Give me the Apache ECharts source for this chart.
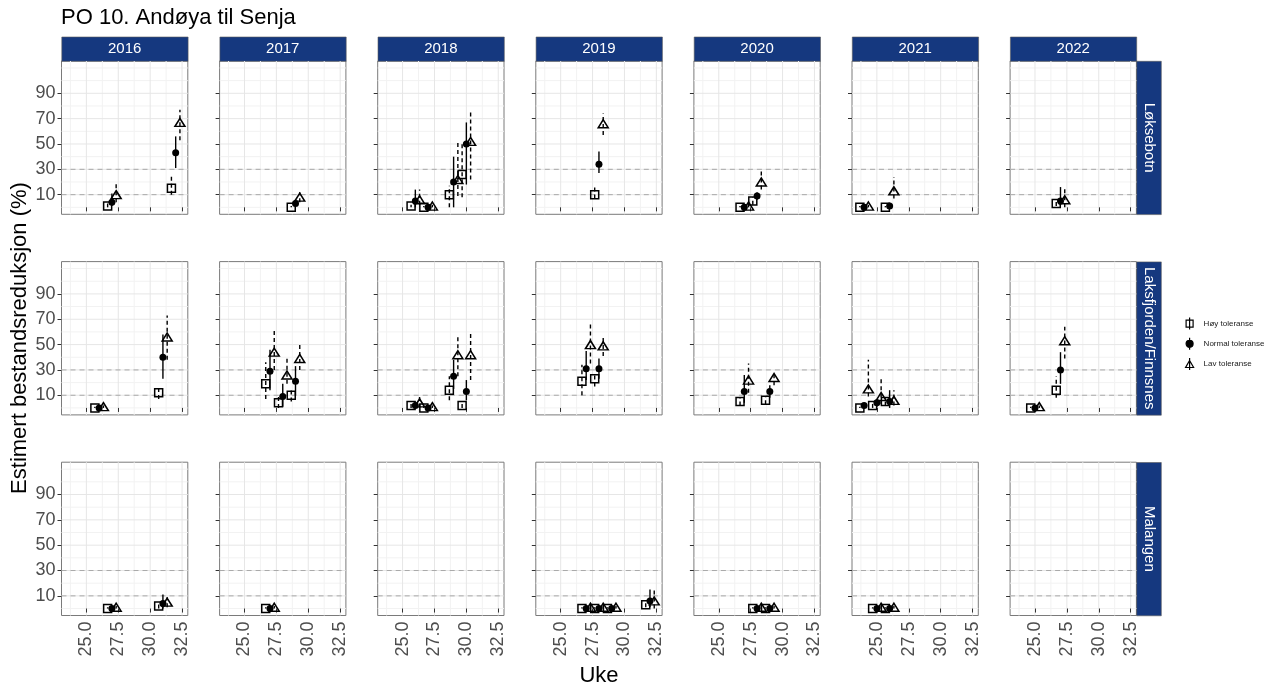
<!DOCTYPE html>
<html lang="no">
<head>
<meta charset="UTF-8">
<title>PO 10. Andøya til Senja</title>
<style>html,body{margin:0;padding:0;background:#fff;}</style>
</head>
<body>
<div id="main" style="width:1288px;height:689px;"></div>

<script src="https://cdn.jsdelivr.net/npm/echarts@6/dist/echarts.min.js"></script>
<script>
var years = [2016, 2017, 2018, 2019, 2020, 2021, 2022];
var sites = ['Løksebotn', 'Laksfjorden/Finnsnes', 'Malangen'];
var tolerances = ['Høy toleranse', 'Normal toleranse', 'Lav toleranse'];

var xTicks = [25, 27.5, 30, 32.5];
var xMinor = [23.75, 26.25, 28.75, 31.25];
var yTicks = [10, 30, 50, 70, 90];
var yMinor = [0, 20, 40, 60, 80, 100, 110];
var refLines = [10, 30];

// [år, uke, estimat, nedre, øvre]
var loksebotnHoy = [
    [2016, 27, 1, 0, 3], [2016, 32, 15, 10, 25],
    [2017, 29, 0, 0, 1],
    [2018, 26, 1, 0, 2], [2018, 27, 0, 0, 1], [2018, 29, 10, 0, 17], [2018, 30, 26, 8, 50],
    [2019, 28, 10, 7, 16],
    [2020, 27, 0, 0, 1], [2020, 28, 5, 2, 8],
    [2021, 24, 0, 0, 1], [2021, 26, 0, 0, 1],
    [2022, 27, 3, 1, 6]
];
var loksebotnNormal = [
    [2016, 27, 4, 1, 11], [2016, 32, 43, 31, 56],
    [2017, 29, 3, 1, 6],
    [2018, 26, 5, 0, 14], [2018, 27, 0, 0, 1], [2018, 29, 20, 0, 40], [2018, 30, 50, 18, 67],
    [2019, 28, 34, 27, 44],
    [2020, 27, 0, 0, 1], [2020, 28, 9, 6, 12],
    [2021, 24, 0, 0, 1], [2021, 26, 1, 0, 2],
    [2022, 27, 5, 2, 16]
];
var loksebotnLav = [
    [2016, 27, 10, 4, 20], [2016, 32, 67, 53, 77],
    [2017, 29, 8, 4, 12],
    [2018, 26, 6, 2, 14], [2018, 27, 1, 0, 2], [2018, 29, 22, 9, 51], [2018, 30, 52, 22, 77],
    [2019, 28, 66, 57, 74],
    [2020, 27, 1, 0, 3], [2020, 28, 20, 14, 30],
    [2021, 24, 1, 0, 2], [2021, 26, 13, 7, 24],
    [2022, 27, 6, 0, 16]
];

var laksHoy = [
    [2016, 26, 0, 0, 1], [2016, 31, 12, 7, 17],
    [2017, 27, 19, 7, 36], [2017, 28, 4, 0, 9], [2017, 29, 10, 5, 16],
    [2018, 26, 2, 0, 4], [2018, 27, 0, 0, 1], [2018, 29, 14, 6, 25], [2018, 30, 2, 0, 4],
    [2019, 27, 21, 10, 34], [2019, 28, 23, 17, 27],
    [2020, 27, 5, 2, 8], [2020, 29, 6, 3, 9],
    [2021, 24, 0, 0, 1], [2021, 25, 2, 0, 4], [2021, 26, 5, 2, 8],
    [2022, 25, 0, 0, 1], [2022, 27, 14, 8, 25]
];
var laksNormal = [
    [2016, 26, 0, 0, 1], [2016, 31, 40, 23, 58],
    [2017, 27, 29, 14, 46], [2017, 28, 9, 1, 19], [2017, 29, 21, 10, 33],
    [2018, 26, 2, 0, 5], [2018, 27, 0, 0, 1], [2018, 29, 25, 15, 38], [2018, 30, 13, 6, 22],
    [2019, 27, 31, 22, 45], [2019, 28, 31, 23, 39],
    [2020, 27, 13, 4, 26], [2020, 29, 13, 8, 18],
    [2021, 24, 2, 0, 4], [2021, 25, 4, 1, 7], [2021, 26, 5, 0, 14],
    [2022, 25, 0, 0, 1], [2022, 27, 30, 19, 44]
];
var laksLav = [
    [2016, 26, 1, 0, 2], [2016, 31, 56, 38, 73],
    [2017, 27, 44, 30, 62], [2017, 28, 26, 19, 39], [2017, 29, 39, 30, 51],
    [2018, 26, 4, 0, 9], [2018, 27, 1, 0, 2], [2018, 29, 42, 25, 58], [2018, 30, 42, 22, 59],
    [2019, 27, 50, 35, 66], [2019, 28, 49, 41, 56],
    [2020, 27, 22, 12, 35], [2020, 29, 24, 18, 27],
    [2021, 24, 15, 9, 38], [2021, 25, 9, 3, 23], [2021, 26, 6, 2, 14],
    [2022, 25, 1, 0, 2], [2022, 27, 53, 39, 64]
];

var malHoy = [
    [2016, 27, 0, 0, 1], [2016, 31, 2, 0, 4],
    [2017, 27, 0, 0, 1],
    [2019, 27, 0, 0, 1], [2019, 28, 0, 0, 1], [2019, 29, 0, 0, 1], [2019, 32, 3, 1, 6],
    [2020, 28, 0, 0, 1], [2020, 29, 0, 0, 1],
    [2021, 25, 0, 0, 1], [2021, 26, 0, 0, 1]
];
var malNormal = [
    [2016, 27, 0, 0, 1], [2016, 31, 4, 0, 11],
    [2017, 27, 0, 0, 1],
    [2019, 27, 0, 0, 1], [2019, 28, 0, 0, 1], [2019, 29, 0, 0, 1], [2019, 32, 6, 1, 15],
    [2020, 28, 0, 0, 1], [2020, 29, 0, 0, 1],
    [2021, 25, 0, 0, 1], [2021, 26, 0, 0, 1]
];
var malLav = [
    [2016, 27, 1, 0, 2], [2016, 31, 5, 1, 9],
    [2017, 27, 1, 0, 2],
    [2019, 27, 1, 0, 2], [2019, 28, 1, 0, 2], [2019, 29, 1, 0, 2], [2019, 32, 6, 0, 15],
    [2020, 28, 1, 0, 2], [2020, 29, 1, 0, 2],
    [2021, 25, 1, 0, 2], [2021, 26, 1, 0, 2]
];

var siteData = [
    [loksebotnHoy, loksebotnNormal, loksebotnLav],
    [laksHoy, laksNormal, laksLav],
    [malHoy, malNormal, malLav]
];

var FONT = 'Liberation Sans, Arial, sans-serif';
var STRIP = '#15387f';
var PW = 126.3, PH = 153.3;
function panelLeft(c) { return 61.5 + 158.1 * c; }
function panelTop(r) { return 61 + 200.6 * r; }
var dodge = [-1 / 3, 0, 1 / 3];
var symbols = ['rect', 'circle', 'triangle'];
var symbolSizes = [8, 7, [10, 8]];
var dashes = [[4, 3], null, [4, 3]];

// guide lines: [kind, value]  kind 0=x major,1=x minor,2=y major,3=y minor,4=reference
var guideData = [];
xTicks.forEach(function (v) { guideData.push([0, v]); });
xMinor.forEach(function (v) { guideData.push([1, v]); });
yTicks.forEach(function (v) { guideData.push([2, v]); });
yMinor.forEach(function (v) { guideData.push([3, v]); });
refLines.forEach(function (v) { guideData.push([4, v]); });

function renderGuide(params, api) {
    var kind = api.value(0), v = api.value(1);
    var cs = params.coordSys;
    var x1, y1, x2, y2;
    if (kind < 2) {
        var p = api.coord([v, 50]);
        x1 = x2 = p[0]; y1 = cs.y; y2 = cs.y + cs.height;
    } else {
        var q = api.coord([28, v]);
        y1 = y2 = q[1]; x1 = cs.x; x2 = cs.x + cs.width;
    }
    var style;
    if (kind === 4) style = { stroke: '#a9a9a9', lineWidth: 1, lineDash: [5, 4] };
    else if (kind === 0 || kind === 2) style = { stroke: '#e6e6e6', lineWidth: 1 };
    else style = { stroke: '#f2f2f2', lineWidth: 1 };
    return { type: 'line', z2: kind === 4 ? 2 : (kind % 2 === 0 ? 1 : 0), shape: { x1: x1, y1: y1, x2: x2, y2: y2 }, style: style };
}

function barRenderer(dash) {
    return function (params, api) {
        var lo = api.coord([api.value(0), api.value(2)]);
        var hi = api.coord([api.value(0), api.value(3)]);
        return {
            type: 'line',
            shape: { x1: lo[0], y1: lo[1], x2: hi[0], y2: hi[1] },
            style: { stroke: '#000', lineWidth: 1.4, lineDash: dash }
        };
    };
}

var grids = [], xAxes = [], yAxes = [], series = [], graphics = [];

for (var r = 0; r < sites.length; r++) {
    for (var c = 0; c < years.length; c++) {
        var idx = r * years.length + c;
        grids.push({
            left: panelLeft(c), top: panelTop(r), width: PW, height: PH,
            show: true, backgroundColor: '#fff', borderColor: '#7a7a7a', borderWidth: 1,
            containLabel: false, outerBoundsMode: 'none'
        });
        xAxes.push({
            gridIndex: idx, type: 'value', min: 23.05, max: 32.95,
            axisLine: { show: false }, splitLine: { show: false },
            axisTick: { show: true, customValues: xTicks, length: 4, lineStyle: { color: '#333' } },
            axisLabel: {
                show: r === sites.length - 1, customValues: xTicks, rotate: 90, margin: 6,
                fontSize: 18, color: '#4d4d4d', fontFamily: FONT,
                formatter: function (v) { return v.toFixed(1); }
            }
        });
        yAxes.push({
            gridIndex: idx, type: 'value', min: -5.5, max: 115.5,
            axisLine: { show: false }, splitLine: { show: false },
            axisTick: { show: true, customValues: yTicks, length: 4, lineStyle: { color: '#333' } },
            axisLabel: {
                show: c === 0, customValues: yTicks, margin: 6,
                fontSize: 18, color: '#4d4d4d', fontFamily: FONT
            }
        });
        series.push({
            type: 'custom', xAxisIndex: idx, yAxisIndex: idx, silent: true, z: 0,
            renderItem: renderGuide, data: guideData
        });

        for (var t = 0; t < 3; t++) {
            var rows = siteData[r][t].filter(function (d) { return d[0] === years[c]; });
            if (!rows.length) continue;
            var off = dodge[t];
            series.push({
                type: 'custom', xAxisIndex: idx, yAxisIndex: idx, silent: true, z: 2,
                renderItem: barRenderer(dashes[t]),
                data: rows.map(function (d) { return [d[1] + off, d[2], d[3], d[4]]; })
            });
            series.push({
                type: 'scatter', name: tolerances[t], xAxisIndex: idx, yAxisIndex: idx, z: 3,
                symbol: symbols[t], symbolSize: symbolSizes[t],
                itemStyle: t === 1
                    ? { color: '#000', opacity: 1 }
                    : { color: 'rgba(0,0,0,0)', borderColor: '#000', borderWidth: 1.5, opacity: 1 },
                emphasis: { disabled: true },
                data: rows.map(function (d) { return [d[1] + off, d[2]]; })
            });
        }
    }
}

// strips
years.forEach(function (y, c) {
    graphics.push({
        type: 'rect', left: panelLeft(c), top: 36.7,
        shape: { width: PW, height: 24.3 },
        style: { fill: STRIP, stroke: '#5a5a5a', lineWidth: 0.6 }
    });
    graphics.push({
        type: 'text', x: panelLeft(c) + PW / 2, y: 36.7 + 12.5,
        style: { text: String(y), fill: '#fff', font: '15px ' + FONT, textAlign: 'center', textVerticalAlign: 'middle' }
    });
});
sites.forEach(function (s, r) {
    var sx = panelLeft(years.length - 1) + PW;
    graphics.push({
        type: 'rect', left: sx, top: panelTop(r),
        shape: { width: 24.6, height: PH },
        style: { fill: STRIP, stroke: '#5a5a5a', lineWidth: 0.6 }
    });
    graphics.push({
        type: 'text', x: sx + 12.3, y: panelTop(r) + PH / 2, rotation: -Math.PI / 2,
        style: { text: s, fill: '#fff', font: '15px ' + FONT, textAlign: 'center', textVerticalAlign: 'middle' }
    });
});

graphics.push({
    type: 'text', x: 61, y: 18,
    style: { text: 'PO 10. Andøya til Senja', fill: '#000', font: '22px ' + FONT, textAlign: 'left', textVerticalAlign: 'middle' }
});
graphics.push({
    type: 'text', x: 20, y: 338, rotation: Math.PI / 2,
    style: { text: 'Estimert bestandsreduksjon (%)', fill: '#000', font: '22px ' + FONT, textAlign: 'center', textVerticalAlign: 'middle' }
});
graphics.push({
    type: 'text', x: 599, y: 676,
    style: { text: 'Uke', fill: '#000', font: '22px ' + FONT, textAlign: 'center', textVerticalAlign: 'middle' }
});

var myChart = echarts.init(document.getElementById('main'));

option = {
    animation: false,
    backgroundColor: '#fff',
    grid: grids,
    xAxis: xAxes,
    yAxis: yAxes,
    legend: {
        orient: 'vertical', left: 1185, top: 317, padding: 0, itemGap: 7,
        itemWidth: 8, itemHeight: 12, selectedMode: false,
        textStyle: { fontSize: 8, color: '#1a1a1a', fontFamily: FONT, padding: [0, 0, 0, 5] },
        data: [
            { name: tolerances[0], icon: 'path://M0.5 2.5H7.5V9.5H0.5Z M4 0V12',
              itemStyle: { color: 'rgba(0,0,0,0)', borderColor: '#000', borderWidth: 1.2, opacity: 1 } },
            { name: tolerances[1], icon: 'path://M4 0V12 M7.5 6A3.5 3.5 0 1 1 0.5 6A3.5 3.5 0 1 1 7.5 6Z',
              itemStyle: { color: '#000', borderColor: '#000', borderWidth: 1.2, opacity: 1 } },
            { name: tolerances[2], icon: 'path://M4 2.5L8 9.5H0Z M4 0V12',
              itemStyle: { color: 'rgba(0,0,0,0)', borderColor: '#000', borderWidth: 1.2, opacity: 1 } }
        ]
    },
    graphic: { elements: graphics },
    series: series
};

myChart.setOption(option);
</script>
</body>
</html>
